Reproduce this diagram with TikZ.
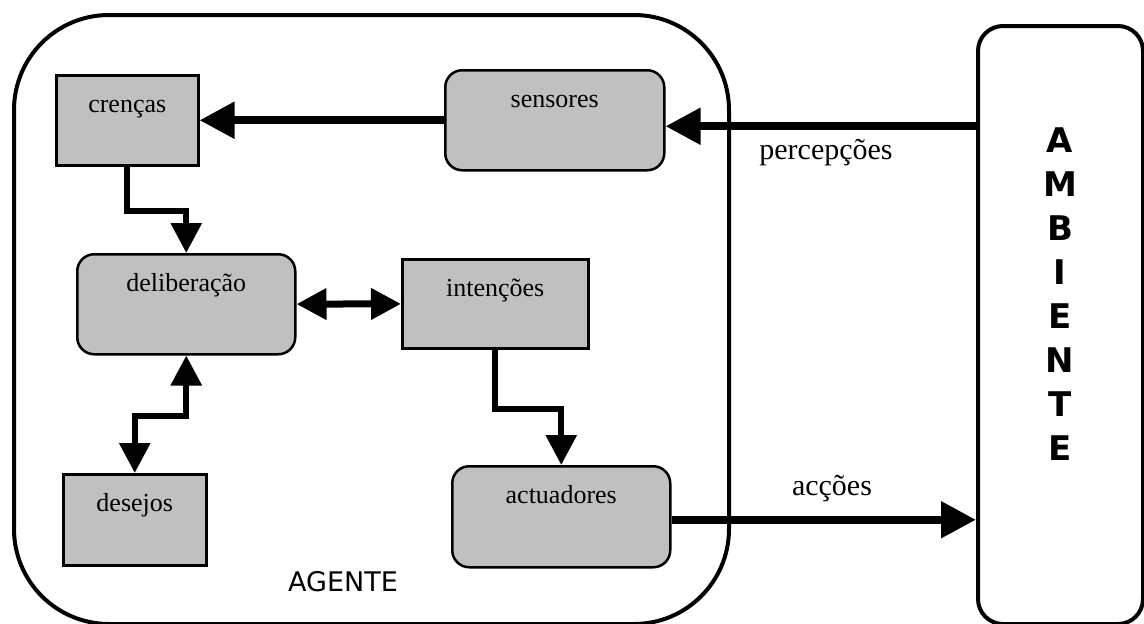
\documentclass[tikz,border=0pt]{standalone}
\usepackage{fontspec}
\setmainfont{Liberation Serif}
\newfontfamily\agentefont{DejaVu Sans}
\usetikzlibrary{arrows.meta}
\definecolor{boxgray}{HTML}{C0C0C0}

\begin{document}
\begin{tikzpicture}[x=1pt, y=-1pt,
  caixa/.style={draw, fill=boxgray, line width=2.5pt, inner sep=0pt, anchor=north west,
    text height=37pt, font=\fontsize{26}{30}\selectfont},
  caixar/.style={caixa, rounded corners=17pt},
  moldura/.style={draw, line width=4pt, inner sep=0pt, anchor=north west},
  seta/.style={line width=6pt, -{Triangle[length=30pt,width=30pt]}},
  setadupla/.style={line width=6pt, {Triangle[length=30pt,width=30pt]}-{Triangle[length=30pt,width=30pt]}},
  setagrossa/.style={line width=8pt, -{Triangle[length=35pt,width=35pt]}},
  rotulo/.style={font=\fontsize{30}{36}\selectfont, anchor=base}]
\useasboundingbox (0,0) rectangle (1144,624);

% agente e ambiente
\node[moldura, rounded corners=95pt, minimum width=715pt, minimum height=609pt] (agente) at (12,13) {};
\node[moldura, rounded corners=25pt, minimum width=165pt, minimum height=598pt] (amb) at (976,24) {};
\node[font=\agentefont\bfseries\fontsize{34}{44}\selectfont, align=center, inner sep=0pt, anchor=north] (ambtexto) at (1060,128) {A\\M\\B\\I\\E\\N\\T\\E};
\node[font=\agentefont\fontsize{27}{32}\selectfont, anchor=base] (agentetexto) at (343,591) {AGENTE};

% componentes
\node[caixa, minimum width=142pt, text depth=53pt] (crencas) at (55,74) {crenças};
\node[caixar, minimum width=219pt, text depth=63pt] (sensores) at (444,69) {sensores};
\node[caixar, minimum width=218pt, text depth=63pt] (delib) at (76,253) {deliberação};
\node[caixa, minimum width=186pt, text depth=52pt] (intencoes) at (401,258) {intenções};
\node[caixa, minimum width=143pt, text depth=54pt] (desejos) at (62,473) {desejos};
\node[caixar, minimum width=218pt, text depth=64pt] (actuadores) at (451,465) {actuadores};

% ligacoes
\draw[setagrossa] (sensores) -- (crencas);
\draw[seta] (crencas.south) -- ++(0,44) -| (delib.north);
\draw[setadupla, line width=7pt] (delib) -- (intencoes);
\draw[setadupla] (delib.south) -- ++(0,60) -| (desejos.north);
\draw[seta] (intencoes.south) -- ++(0,59) -| (actuadores.north);

\coordinate (perc) at ([yshift=-6pt]sensores.east);
\coordinate (acc) at ([yshift=-3pt]actuadores.east);
\draw[setagrossa] (perc -| amb.west) -- (perc);
\draw[setagrossa] (acc) -- (acc -| amb.west);
\node[rotulo] (percepcoes) at (826,159) {percepções};
\node[rotulo] (accoes) at (832,495) {acções};
\end{tikzpicture}
\end{document}
